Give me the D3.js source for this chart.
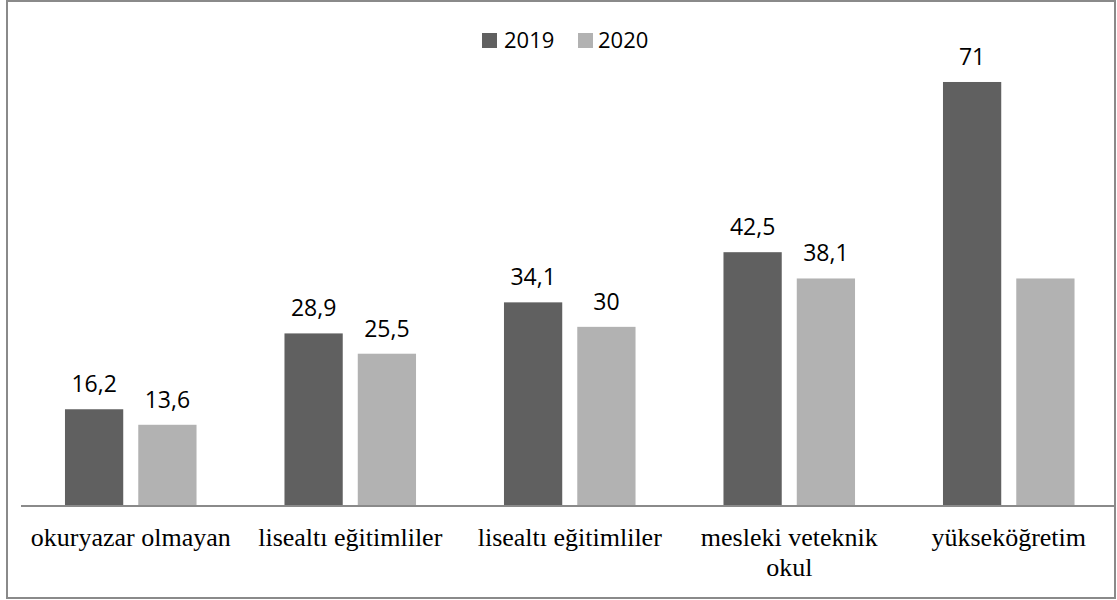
<!DOCTYPE html>
<html><head><meta charset="utf-8">
<script src="https://cdn.jsdelivr.net/npm/d3@7"></script>
<style>body{margin:0;background:#fff}svg{display:block}</style>
</head><body>
<svg id="c" width="1117" height="600"></svg>
<script>
const categories = ["okuryazar olmayan", "lisealtı eğitimliler", "lisealtı eğitimliler", "mesleki veteknik okul", "yükseköğretim"];
const seriesNames = ["2019", "2020"];
const values2019 = [16.2, 28.9, 34.1, 42.5, 71];
const values2020 = [13.6, 25.5, 30, 38.1, 38.1];
const labels2019 = ["16,2", "28,9", "34,1", "42,5", "71"];
const labels2020 = ["13,6", "25,5", "30", "38,1", ""];
const colors = ["#606060", "#b2b2b2"];

const svg = d3.select("#c");
svg.append("rect").attr("x", 7).attr("y", 1).attr("width", 1108).attr("height", 597)
  .attr("fill", "#fff").attr("stroke", "#8a8a8a").attr("stroke-width", 2);

const x0 = d3.scaleBand().domain(d3.range(categories.length)).range([21, 1118.5]).padding(0);
const x1 = d3.scaleBand().domain(seriesNames).range([0, x0.bandwidth()]).paddingInner(0.205).paddingOuter(0.6);
const y = d3.scaleLinear().domain([0, 80]).range([506, 506 - 80 * 5.972]);

const data = categories.map((c, i) => ({i, c, vals: [
  {s: "2019", v: values2019[i], l: labels2019[i]},
  {s: "2020", v: values2020[i], l: labels2020[i]}]}));

const g = svg.selectAll("g.grp").data(data).enter().append("g")
  .attr("transform", d => `translate(${x0(d.i)},0)`);
g.selectAll("rect").data(d => d.vals).enter().append("rect")
  .attr("x", d => x1(d.s)).attr("width", x1.bandwidth())
  .attr("y", d => y(d.v)).attr("height", d => y(0) - y(d.v))
  .attr("fill", (d, j) => colors[j]);
g.selectAll("text.lbl").data(d => d.vals).enter().append("text")
  .attr("class", "lbl")
  .attr("x", d => x1(d.s) + x1.bandwidth() / 2).attr("y", d => y(d.v) - 17)
  .attr("text-anchor", "middle")
  .style("font-family", "'Open Sans', 'Liberation Sans', sans-serif").style("font-size", "23px")
  .attr("fill", "#000").text(d => d.l);

// axis
svg.append("line").attr("x1", 21).attr("x2", 1115).attr("y1", y(0)).attr("y2", y(0))
  .attr("stroke", "#8a8a8a").attr("stroke-width", 2);

// category labels
const catG = svg.append("g");
const wrapped = {"mesleki veteknik okul": ["mesleki veteknik", "okul"]};
categories.forEach((c, i) => {
  const lines = wrapped[c] || [c];
  const t = catG.append("text").attr("x", x0(i) + x0.bandwidth() / 2).attr("y", 546)
    .attr("text-anchor", "middle")
    .style("font-family", "'Liberation Serif', 'Times New Roman', serif").style("font-size", "26px")
    .attr("fill", "#000");
  lines.forEach((ln, k) => t.append("tspan").attr("x", x0(i) + x0.bandwidth() / 2).attr("dy", k ? 30 : 0).text(ln));
});

// legend
const lg = svg.append("g");
const legPos = [[482, 504], [578, 598]];
seriesNames.forEach((s, j) => {
  lg.append("rect").attr("x", legPos[j][0]).attr("y", 33).attr("width", 15).attr("height", 15).attr("fill", colors[j]);
  lg.append("text").attr("x", legPos[j][1]).attr("y", 48)
    .style("font-family", "'Open Sans', 'Liberation Sans', sans-serif").style("font-size", "22px")
    .attr("fill", "#000").text(s);
});
</script>
</body></html>
